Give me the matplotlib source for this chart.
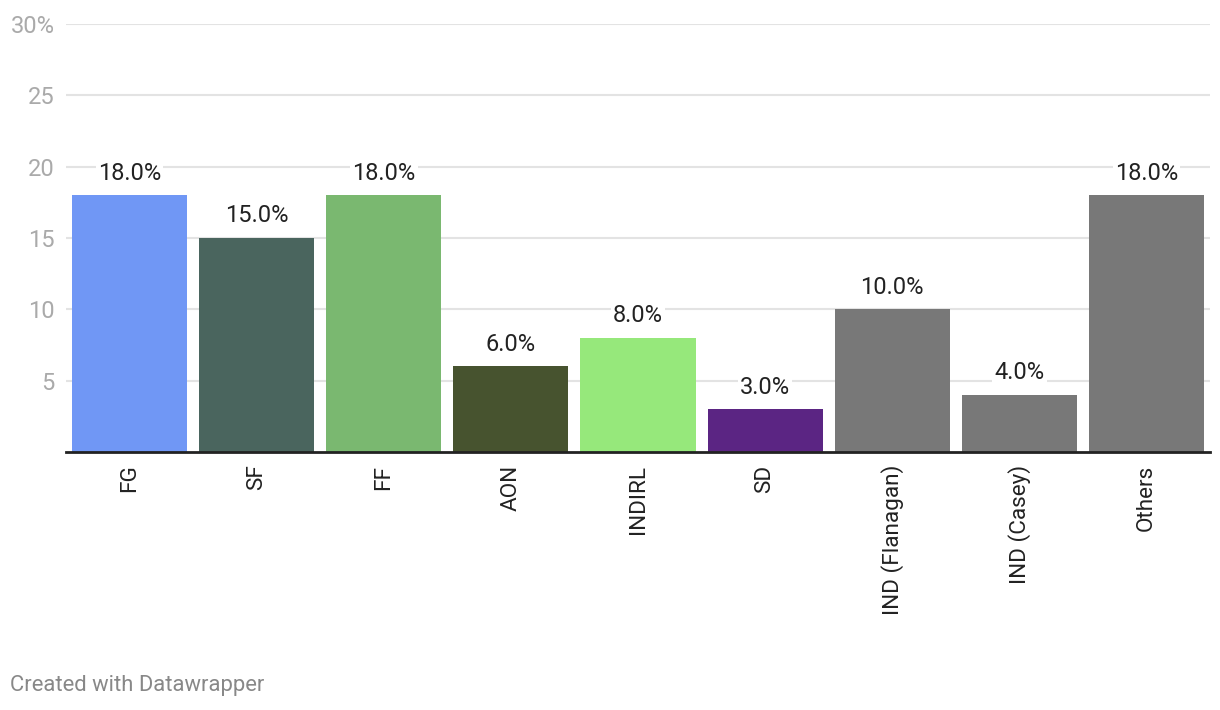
import matplotlib
matplotlib.use("Agg")
import matplotlib.pyplot as plt

categories = ["FG", "SF", "FF", "AON", "INDIRL", "SD", "IND (Flanagan)", "IND (Casey)", "Others"]
values = [18.0, 15.0, 18.0, 6.0, 8.0, 3.0, 10.0, 4.0, 18.0]
colors = ["#7097f5", "#4a655e", "#7ab870", "#47532f", "#96e87b", "#5b2583", "#787878", "#787878", "#787878"]
yticks = [5, 10, 15, 20, 25, 30]
ytick_labels = ["5", "10", "15", "20", "25", "30%"]

plt.rcParams['font.family'] = ['Roboto', 'DejaVu Sans']

W, H = 1220, 710
fig = plt.figure(figsize=(W / 100, H / 100), dpi=100)
ax = fig.add_axes([66 / W, 1 - 452 / H, (1210 - 66) / W, (452 - 24) / H])

x = list(range(len(categories)))
ax.bar(x, values, width=0.905, color=colors, zorder=2)
ax.set_xlim(-0.5, len(categories) - 0.5)
ax.set_ylim(0, 30)

for xi, v in zip(x, values):
    ax.text(xi, v + 0.75, f"{v:.1f}%", ha="center", va="bottom", fontsize=17, color="#222222",
            zorder=3, bbox=dict(facecolor="white", edgecolor="none", pad=1.5))

ax.set_yticks(yticks)
ax.set_yticklabels(ytick_labels)
ax.yaxis.grid(True, color="#e3e3e3", linewidth=1.5, zorder=0)
ax.tick_params(axis="y", length=0, pad=8, labelsize=17, labelcolor="#aaaaaa")
ax.set_xticks(x)
ax.set_xticklabels(categories, rotation=90, fontsize=16.2, color="#222222")
ax.tick_params(axis="x", length=0, pad=9)
for lbl in ax.get_xticklabels():
    lbl.set_va("top")

for s in ["top", "right", "left"]:
    ax.spines[s].set_visible(False)
ax.spines["bottom"].set_color("#222222")
ax.spines["bottom"].set_linewidth(2)
ax.spines["bottom"].set_zorder(4)

fig.text(10 / W, 1 - 685 / H, "Created with Datawrapper", fontsize=15.8, color="#888888",
         ha="left", va="center")

fig.savefig("out.png", dpi=100, facecolor="white")
